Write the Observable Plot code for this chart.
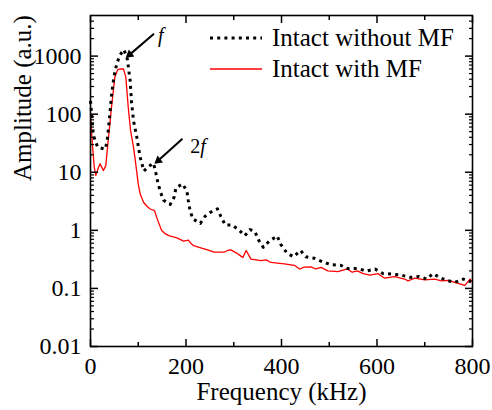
<!DOCTYPE html>
<html><head><meta charset="utf-8">
<script src="https://cdn.jsdelivr.net/npm/d3@7"></script>
<script src="https://cdn.jsdelivr.net/npm/@observablehq/plot@0.6"></script>
<style>
body{margin:0;background:#fff;font-family:'Liberation Serif',serif}
#wrap{position:relative;width:492px;height:410px}
.leg{position:absolute;left:210px;height:30px;display:flex;align-items:center;font-size:25px;line-height:30px;color:#000;white-space:nowrap}
.leg svg{margin-right:10px}
</style>
</head><body><div id="wrap"></div>
<script>
// Series: Intact without MF (black dotted)
const freqNoMF = [0,6,15,31,35,40,44,49,55,62,70,77,83,86,90,97,104,112,121,132,137,141,146,153,167,175,179,193,202,205,208,214,230,240,251,266,273,282,296,310,323,334,344,353,362,374,391,398,411,425,440,451,469,487,504,524,539,559,578,596,613,630,650,669,688,704,717,734,748,763,781,797];
const ampNoMF  = [170,43,27,25,35,89,210,434,740,1050,1290,900,380,160,78,40,18,10.5,12.5,14.3,9.6,6.7,4.7,3.3,2.8,3.7,5.4,6.3,4.7,3.2,2.3,1.57,1.32,1.75,2.04,2.34,1.74,1.24,1.24,1.03,0.81,1.03,0.96,0.66,0.51,0.65,0.8,0.58,0.41,0.35,0.45,0.35,0.33,0.285,0.256,0.25,0.22,0.22,0.2,0.215,0.18,0.177,0.17,0.155,0.16,0.145,0.18,0.15,0.136,0.127,0.145,0.13];
// Series: Intact with MF (red)
const freqMF = [0,4,8,11,15,20,24,27,32,37,44,51,57,63,69,74,79,84,90,93,100,104,111,118,125,134,141,149,156,164,181,195,205,210,216,231,245,259,280,287,294,305,315,319,326,336,357,368,378,396,406,427,438,448,462,472,483,497,518,538,548,559,571,585,602,616,637,658,665,679,700,721,735,749,763,784,795,800];
const ampMF  = [100,30,12,8.8,11,14,12,10.7,13,35,132,434,583,600,600,434,132,52,27,18,6.3,4.25,3.04,2.6,2.33,2.19,1.47,0.99,0.88,0.81,0.74,0.65,0.68,0.6,0.545,0.5,0.46,0.42,0.42,0.45,0.46,0.41,0.36,0.34,0.45,0.32,0.3,0.31,0.28,0.27,0.265,0.25,0.216,0.233,0.235,0.216,0.23,0.2,0.195,0.216,0.19,0.2,0.18,0.17,0.18,0.15,0.16,0.145,0.135,0.15,0.14,0.145,0.135,0.138,0.127,0.113,0.145,0.127];

const seriesNames = ["Intact without MF", "Intact with MF"];
const xTicks = [0, 200, 400, 600, 800];
const xMinorTicks = [100, 300, 500, 700];
const yTicks = [0.01, 0.1, 1, 10, 100, 1000];
const yTickLabels = ["0.01", "0.1", "1", "10", "100", "1000"];
const xLabel = "Frequency (kHz)";
const yLabel = "Amplitude (a.u.)";
// annotations: label, text position, arrow start, arrow tip (data units)
const annLabels = ["f", "2f"];
const annTextF = [147, 225];
const annTextA = [2275, 27.7];
const annFromF = [133, 192.6];
const annFromA = [2430, 37.7];
const annToF = [82, 142];
const annToA = [1060, 15.9];

// warm up font resolution before drawing
(function () {
  const c = document.createElement("canvas").getContext("2d");
  for (const f of ["24px 'Liberation Serif'", "italic 20px 'Liberation Serif'", "25px 'Liberation Serif'"]) { c.font = f; c.measureText("Intact without MF 1000 f"); }
  void getComputedStyle(document.body).fontFamily;
})();

const yMinor = [];
for (let e = -2; e <= 3; e++) for (let k = 2; k <= 9; k++) { const v = k * Math.pow(10, e); if (v < 5000) yMinor.push(v); }

const noMF = freqNoMF.map((f, i) => ({f, a: ampNoMF[i]}));
const withMF = freqMF.map((f, i) => ({f, a: ampMF[i]}));
const ann = annLabels.map((t, i) => ({t, x: annTextF[i], y: annTextA[i], x1: annFromF[i], y1: annFromA[i], x2: annToF[i], y2: annToA[i]}));
const labMap = new Map(yTicks.map((v, i) => [v, yTickLabels[i]]));

const FONT = "'Liberation Serif', serif";
const plot = Plot.plot({
  width: 492, height: 410,
  marginLeft: 90, marginRight: 20, marginTop: 15, marginBottom: 64,
  style: {fontFamily: FONT, fontSize: "24px"},
  x: {domain: [0, 800]},
  y: {type: "log", domain: [0.01, 5000]},
  marks: [
    Plot.line(withMF, {x: "f", y: "a", stroke: "#ff0000", strokeWidth: 1.3}),
    Plot.line(noMF, {x: "f", y: "a", stroke: "#000", strokeWidth: 3, strokeDasharray: "3 4.2", strokeLinecap: "butt"}),
    // inward ticks (tick marks only)
    Plot.tickX(xTicks, {x: d => d, frameAnchor: "bottom"}).filter ? null : null,
    Plot.axisX(xTicks, {anchor: "bottom", tickSize: -7, text: null, label: null, strokeWidth: 1.5}),
    Plot.axisX(xMinorTicks, {anchor: "bottom", tickSize: -4, text: null, label: null, strokeWidth: 1.5}),
    Plot.axisX(xTicks, {anchor: "top", tickSize: -7, text: null, label: null, strokeWidth: 1.5}),
    Plot.axisX(xMinorTicks, {anchor: "top", tickSize: -4, text: null, label: null, strokeWidth: 1.5}),
    Plot.axisY(yTicks, {anchor: "left", tickSize: -8, text: null, label: null, strokeWidth: 1.5}),
    Plot.axisY(yMinor, {anchor: "left", tickSize: -4, text: null, label: null, strokeWidth: 1.2}),
    Plot.axisY(yTicks, {anchor: "right", tickSize: -8, text: null, label: null, strokeWidth: 1.5}),
    Plot.axisY(yMinor, {anchor: "right", tickSize: -4, text: null, label: null, strokeWidth: 1.2}),
    // tick labels
    Plot.axisX(xTicks, {anchor: "bottom", tickSize: 0, tickPadding: 10, label: null, fontSize: 24, tickFormat: d => String(d)}),
    Plot.axisY(yTicks, {anchor: "left", tickSize: 0, tickPadding: 9, label: null, fontSize: 24, tickFormat: d => labMap.get(d)}),
    Plot.frame({stroke: "#000", strokeWidth: 1.6}),
    // axis titles
    Plot.text([xLabel], {frameAnchor: "bottom", text: d => d, dy: 53, lineAnchor: "bottom", fontSize: 25}),
    Plot.text([yLabel], {frameAnchor: "left", text: d => d, dx: -68, rotate: -90, lineAnchor: "middle", fontSize: 25}),
    // annotations
    Plot.link(ann, {x1: "x1", y1: "y1", x2: "x2", y2: "y2", stroke: "#000", strokeWidth: 2}),
    Plot.dot(ann, {x: "x2", y: "y2", symbol: "triangle2", r: 4.2, fill: "#000", stroke: null, rotate: 231}),
    Plot.text(ann, {x: "x", y: "y", text: "t", fontSize: 20})
  ]
});

// italic f; in "2f" only the f is italic
d3.select(plot).selectAll("text").each(function () {
  const t = d3.select(this);
  const txt = this.textContent;
  if (txt === "f") {
    t.attr("font-style", "italic");
  } else if (txt === "2f") {
    t.text(null);
    t.append("tspan").text("2");
    t.append("tspan").attr("font-style", "italic").text("f");
  }
});
const wrap = document.getElementById("wrap");
wrap.appendChild(plot);

// HTML legend
const legTop = [23, 54];
const legStyles = [
  {stroke: "#000", width: 3, dash: "3 4.2"},
  {stroke: "#ff0000", width: 1.3, dash: "none"}
];
seriesNames.forEach((name, i) => {
  const d = document.createElement("div");
  d.className = "leg";
  d.style.top = legTop[i] + "px";
  d.innerHTML = `<svg width="52" height="10"><line x1="0" x2="52" y1="5" y2="5" stroke="${legStyles[i].stroke}" stroke-width="${legStyles[i].width}" stroke-dasharray="${legStyles[i].dash}"/></svg><span></span>`;
  d.querySelector("span").textContent = name;
  wrap.appendChild(d);
});
// force style/layout resolution
plot.querySelectorAll("text").forEach(t => { void getComputedStyle(t).fontFamily; });
void wrap.getBoundingClientRect();
</script>
</body></html>
